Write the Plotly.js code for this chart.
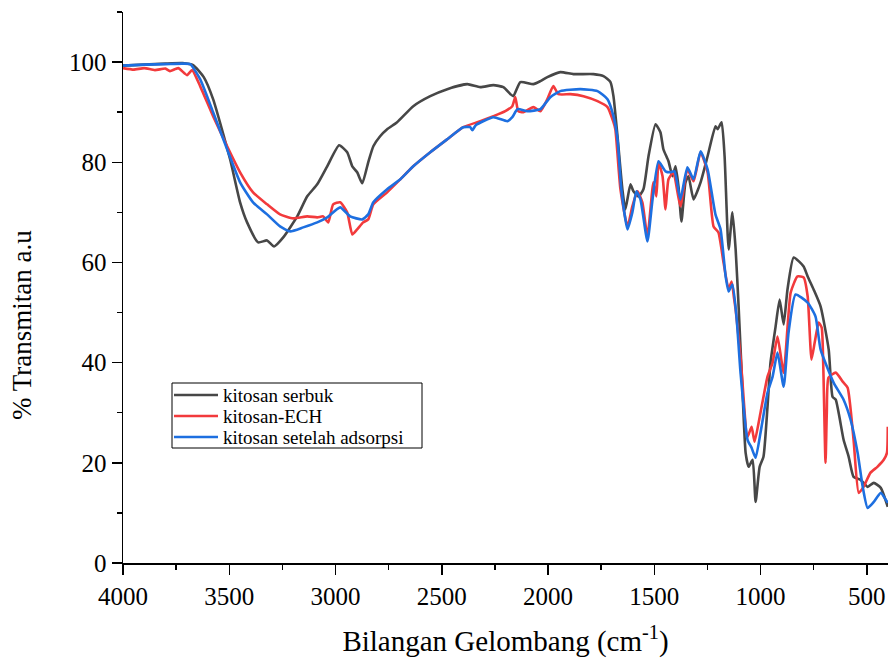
<!DOCTYPE html>
<html>
<head>
<meta charset="utf-8">
<script src="https://cdn.plot.ly/plotly-3.0.1.min.js"></script>
<style>html,body{margin:0;padding:0;background:#fff;}#chart{width:888px;height:659px;}</style>
</head>
<body>
<div id="chart"></div>
<script>
// kitosan serbuk
const serbukX = [4000,3900,3800,3720,3670,3620,3576,3496,3449,3416,3364,3322,3289,3246,3180,3133,3086,3039,2983,2945,2921,2898,2874,2846,2822,2790,2757,2710,2634,2554,2474,2380,2319,2257,2210,2177,2163,2130,2069,2036,2003,1942,1880,1786,1739,1706,1692,1673,1650,1636,1612,1598,1574,1551,1527,1494,1471,1457,1433,1414,1400,1386,1372,1353,1339,1315,1282,1249,1212,1202,1183,1169,1150,1132,1117,1103,1085,1070,1056,1037,1023,1004,986,967,953,929,910,891,873,844,797,778,750,717,679,661,646,609,585,562,529,496,467,434,401];
const serbukY = [99.3,99.5,99.7,99.8,99.4,97.0,92.6,80.6,72,68,64,64.4,63.2,65,69.2,73.2,75.6,79.2,83.4,82,79.2,78,75.8,80,83.2,85.2,86.6,88,91.2,93.2,94.6,95.6,95,95.4,95,93.6,93.2,96,95.6,96.2,97,98,97.6,97.6,97.2,96,93.2,85.2,74.6,70.6,75.6,74.2,73.2,74.6,81.2,87.6,86,82.6,80.2,77.2,79.2,75.2,68.2,76,77.2,72.6,76,81.2,87.2,86.6,88,81.2,62.6,70,62.6,51.2,34.6,22,19.2,20.6,12.2,19.2,21.2,31.2,40,47.2,52.6,47.6,54.6,61,59.2,57.2,54.6,51.2,42.6,33.2,32.6,24.6,21.2,17.2,16.6,15.2,16,15,11.2];

// kitosan-ECH
const echX = [4000,3950,3900,3850,3800,3779,3740,3699,3675,3637,3576,3510,3449,3388,3322,3261,3199,3133,3086,3058,3034,3011,2978,2945,2921,2898,2870,2846,2822,2757,2695,2634,2554,2474,2399,2319,2257,2201,2168,2154,2140,2116,2069,2036,2003,1975,1951,1895,1833,1767,1720,1692,1683,1659,1626,1603,1579,1556,1532,1504,1490,1480,1461,1447,1433,1410,1377,1344,1315,1282,1249,1221,1198,1174,1150,1136,1125,1117,1094,1061,1042,1028,1000,967,943,920,891,858,826,797,778,760,745,726,712,705,694,688,680,646,613,590,562,538,515,483,450,420,405,401];
const echY = [98.8,98.5,98.8,98.4,98.7,98.2,98.8,97.4,98.4,95.2,89.2,83.2,78,74,71.6,69.6,68.8,69.2,69,69.2,68,71.6,72,70,65.6,66.6,68,68.6,71.6,74,76.6,79.2,82,84.6,87,88.2,89.2,90.2,91.2,93,90.2,90,91,90.2,92.6,95.2,93.6,93.6,93.2,92.2,91,88,86.6,74.6,67.2,71.2,74.2,72,65.2,76,73.2,80,77.2,70.6,76.6,78,71.2,78.6,76.2,82,78,67.2,66,60,54.6,56.2,53,50.6,41.2,25.2,27.2,24.2,30,37.2,40,45.2,38,54,57.2,57,53.2,40.6,44,48,47,40,20,30,37,38,36.2,35,24.6,14,15.2,18,19.2,20.6,22,27.2];

// kitosan setelah adsorpsi
const adsX = [4000,3900,3800,3720,3684,3637,3576,3510,3449,3388,3322,3261,3213,3152,3086,3039,2978,2931,2874,2846,2822,2757,2695,2634,2554,2474,2399,2366,2356,2340,2257,2191,2168,2144,2097,2036,1989,1942,1848,1767,1720,1692,1673,1655,1626,1603,1584,1565,1532,1508,1480,1447,1424,1405,1377,1344,1315,1282,1249,1212,1188,1164,1150,1132,1113,1094,1061,1042,1023,1000,967,943,920,891,868,835,778,741,717,656,609,576,543,519,496,467,434,410,401];
const adsY = [99.3,99.5,99.6,99.7,99.6,96.6,90,82.6,76,72,69.6,67.2,66.2,67,68,69,71,69.2,68.6,69.6,72,74.6,76.6,79.2,82,84.6,87,87,86.4,87.4,89,88.2,89,90.6,90.2,90.6,93,94.2,94.6,94.2,92.6,89.2,84.6,74.6,66.6,70,74.2,72.6,64.2,72.6,80.2,78.2,78,78.2,72.6,79,76.6,82.2,78.6,69.6,66.6,57.2,54.2,55.6,49.2,38,24.6,23,21,26,34,37.2,42,35.2,46,53.6,52,49.2,42.6,36,32.6,28.6,22,15.2,11,12.2,14,12.6,12];

const seriesNames = ["kitosan serbuk", "kitosan-ECH", "kitosan setelah adsorpsi"];
const seriesColors = ["#474747", "#f23a3c", "#1d6fe0"];
const xTickVals = [4000,3500,3000,2500,2000,1500,1000,500];
const yTickVals = [0,20,40,60,80,100];
const xTitle = "Bilangan Gelombang (cm<sup>-1</sup>)";
const yTitle = "% Transmitan a.u";

const FONT = "'Liberation Serif'";
const xs = [serbukX, echX, adsX];
const ys = [serbukY, echY, adsY];
const traces = xs.map((x, i) => ({
  x: x, y: ys[i], type: "scatter", mode: "lines", name: seriesNames[i],
  line: {color: seriesColors[i], width: 2.6, shape: "spline", smoothing: 0.5},
  showlegend: false
}));

// legend box drawn in paper coordinates (plot area 765 x 551 px)
const PW = 765, PH = 551;
const px2x = p => (p - 123) / PW;
const py2y = p => (563 - p) / PH;
const legRows = [395, 416, 437];
const shapes = [{
  type: "rect", xref: "paper", yref: "paper",
  x0: px2x(172), x1: px2x(422), y0: py2y(448), y1: py2y(383),
  line: {color: "#000", width: 1}, fillcolor: "#fff", layer: "above"
}];
const annotations = [];
legRows.forEach((r, i) => {
  shapes.push({type: "line", xref: "paper", yref: "paper",
    x0: px2x(174), x1: px2x(218), y0: py2y(r), y1: py2y(r),
    line: {color: seriesColors[i], width: 2.6}, layer: "above"});
  annotations.push({xref: "paper", yref: "paper", x: px2x(221), y: py2y(r),
    xanchor: "left", yanchor: "middle", showarrow: false, text: seriesNames[i],
    font: {family: FONT, size: 19, color: "#000"}});
});
// y-axis title
annotations.push({xref: "paper", yref: "paper", x: px2x(22), y: py2y(325),
  xanchor: "center", yanchor: "middle", showarrow: false, textangle: -90,
  text: yTitle, font: {family: FONT, size: 27, color: "#000"}});

const layout = {
  width: 888, height: 659,
  margin: {l: 123, r: 0, t: 12, b: 96},
  paper_bgcolor: "#fff", plot_bgcolor: "#fff",
  font: {family: FONT, color: "#000"},
  showlegend: false,
  shapes: shapes,
  annotations: annotations,
  xaxis: {
    range: [4000, 400], autorange: false,
    tickvals: xTickVals, ticktext: xTickVals.map(String),
    ticks: "outside", ticklen: 10, tickwidth: 1.5, tickcolor: "#000",
    showline: true, linecolor: "#000", linewidth: 1.5, mirror: false,
    showgrid: false, zeroline: false,
    tickfont: {family: FONT, size: 25, color: "#000"},
    minor: {dtick: 250, tick0: 0, ticks: "outside", ticklen: 5, tickwidth: 1.5, tickcolor: "#000", showgrid: false},
    title: {text: xTitle, font: {family: FONT, size: 29, color: "#000"}, standoff: 22}
  },
  yaxis: {
    range: [0, 110], autorange: false,
    tickvals: yTickVals, ticktext: yTickVals.map(String),
    ticks: "outside", ticklen: 10, tickwidth: 1.5, tickcolor: "#000",
    showline: true, linecolor: "#000", linewidth: 1.5, mirror: false,
    showgrid: false, zeroline: false,
    tickfont: {family: FONT, size: 25, color: "#000"},
    minor: {dtick: 10, tick0: 0, ticks: "outside", ticklen: 5, tickwidth: 1.5, tickcolor: "#000", showgrid: false}
  }
};

Plotly.newPlot("chart", traces, layout, {displayModeBar: false, staticPlot: true});
</script>
</body>
</html>
